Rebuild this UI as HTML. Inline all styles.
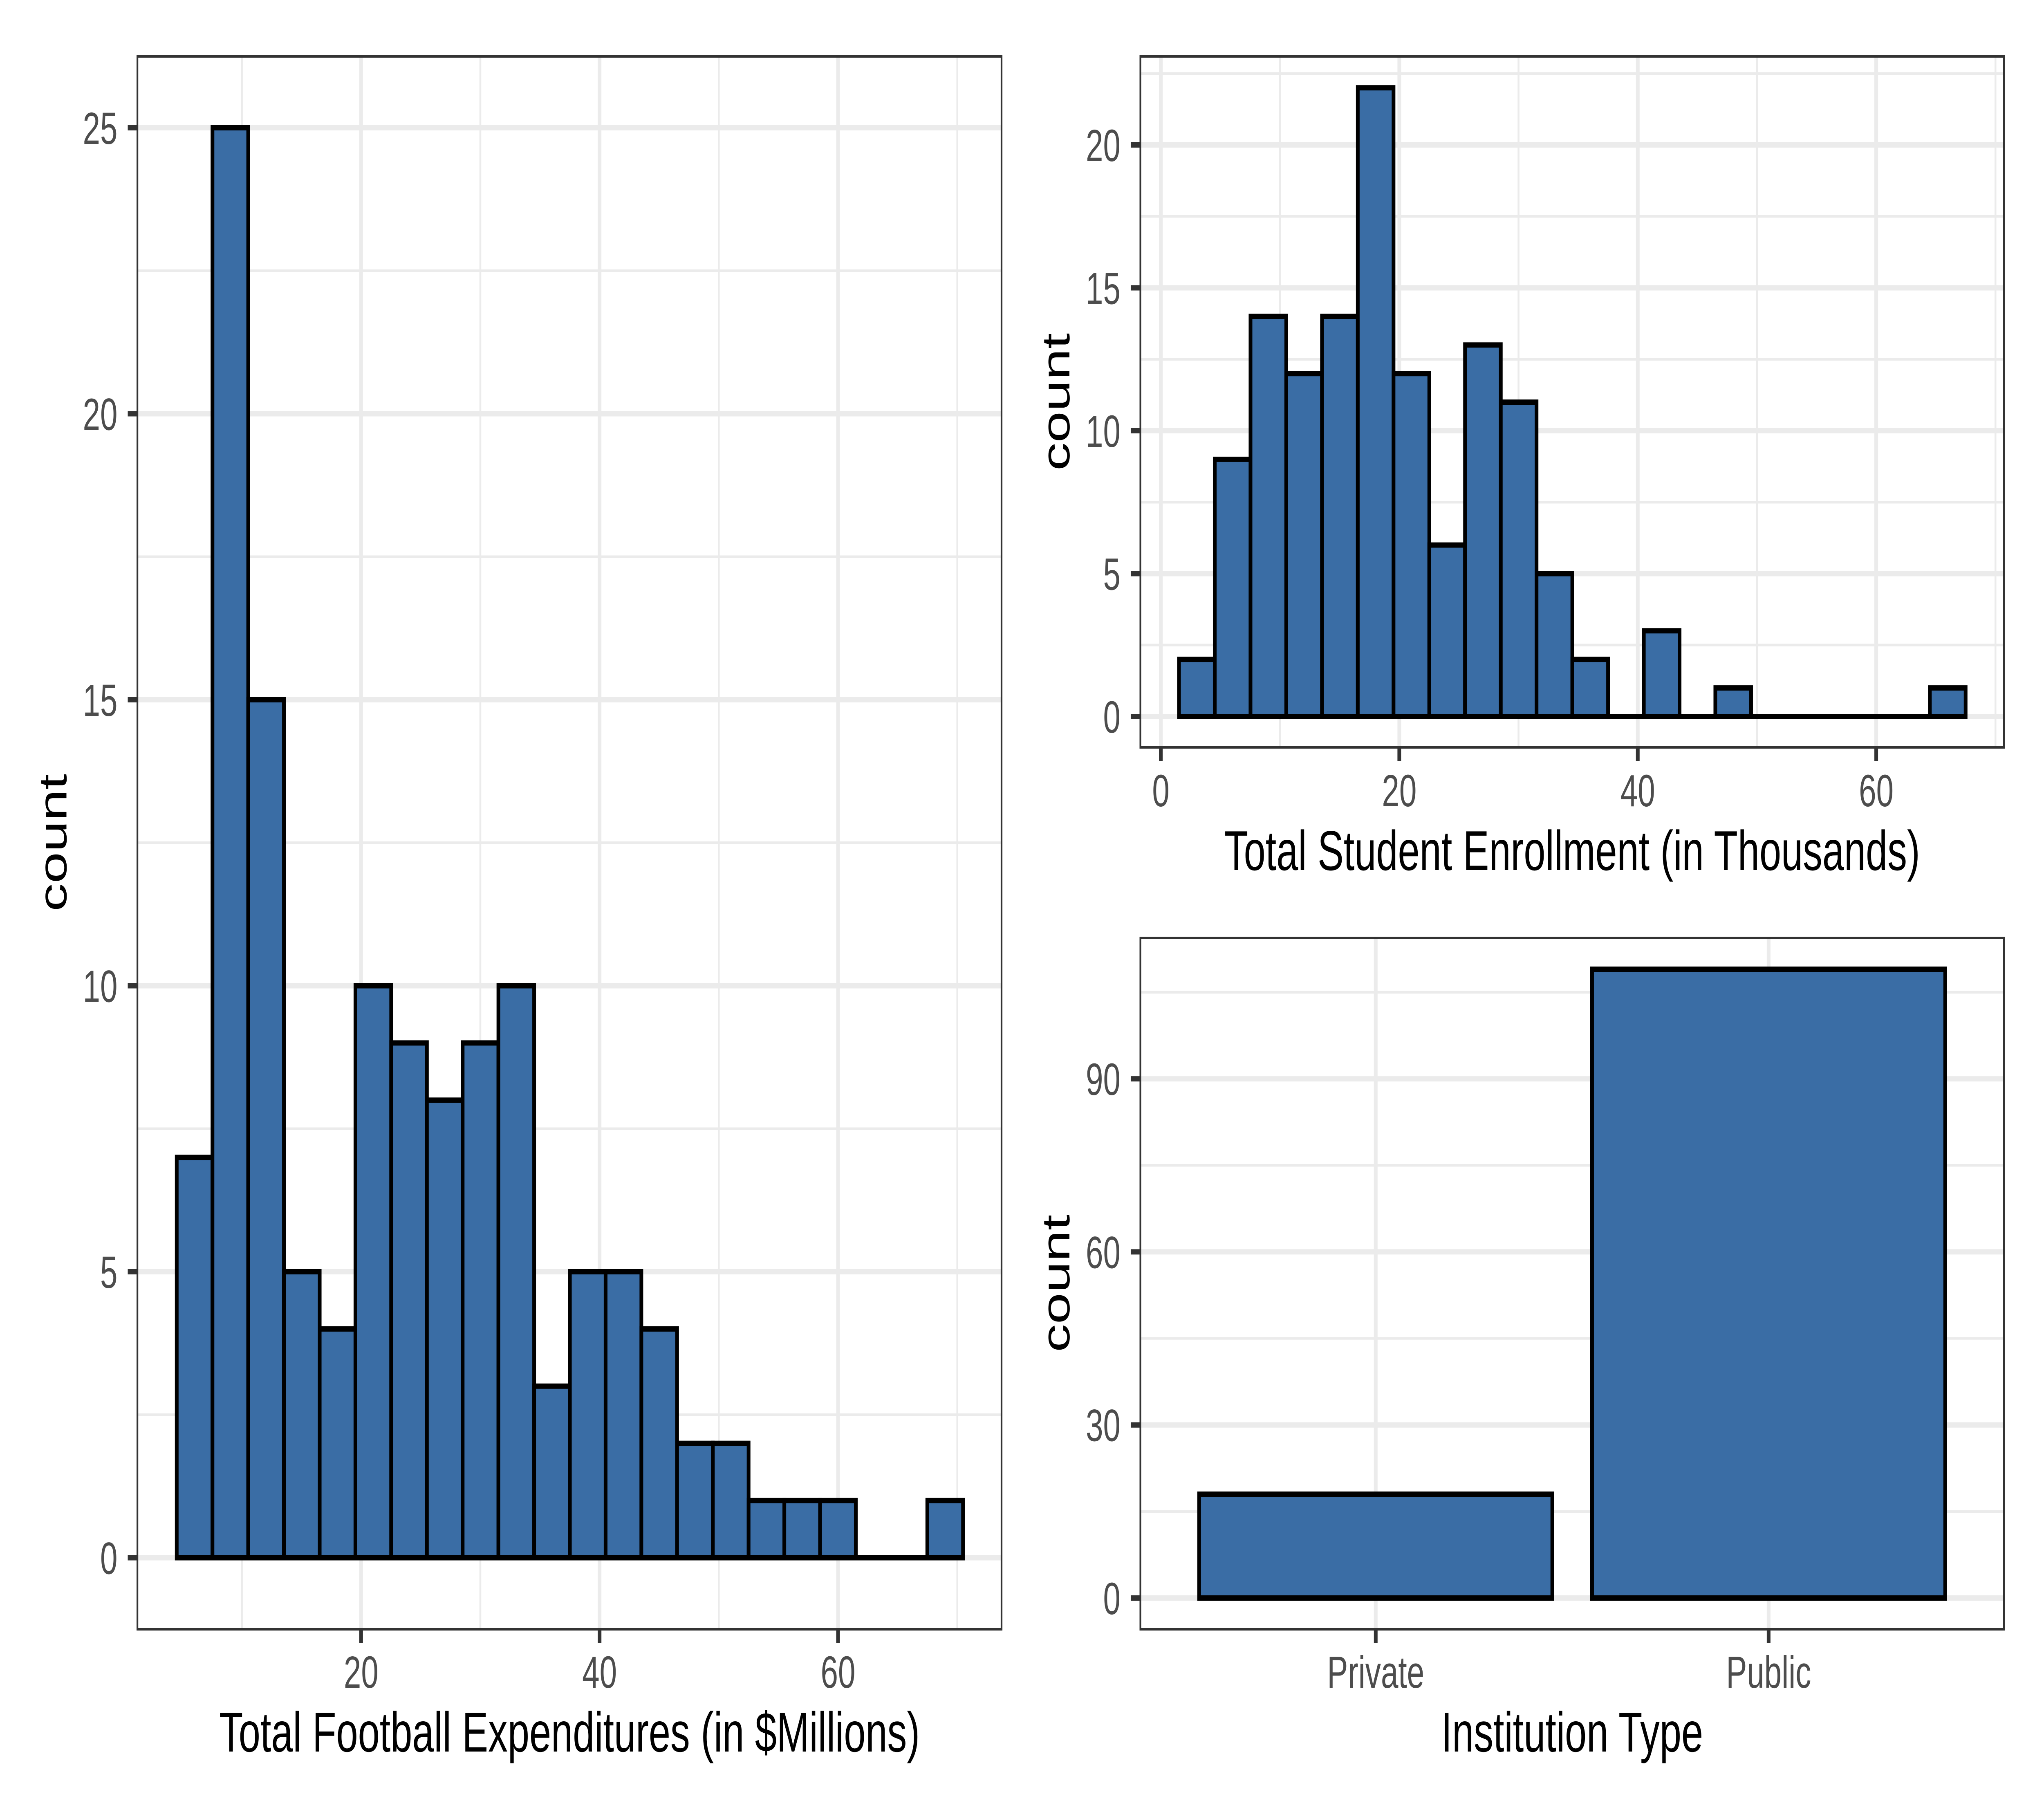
<!DOCTYPE html>
<html>
<head>
<meta charset="utf-8">
<style>
html,body{margin:0;padding:0;background:#fff;width:100%;height:100%;overflow:hidden;}
svg{display:block;position:fixed;left:0;top:0;width:100vw;height:100vh;}
text{font-family:"Liberation Sans",Arial,sans-serif;}
.tk{font-size:110px;fill:#4D4D4D;}
.ti{font-size:137.5px;fill:#000;}
.gM{stroke:#EBEBEB;stroke-width:13;}
.gm{stroke:#EBEBEB;stroke-width:6.5;}
.bar{fill:#3A6DA5;stroke:#000;stroke-width:13;stroke-linejoin:miter;}
.zl{stroke:#000;stroke-width:13;}
.tick{stroke:#333333;stroke-width:13;}
.bd{fill:none;stroke:#333333;stroke-width:6;}
</style>
</head>
<body>
<svg viewBox="0 0 7200 4449" preserveAspectRatio="none" xmlns="http://www.w3.org/2000/svg" overflow="hidden">
<rect x="0" y="0" width="7200" height="4449" fill="#fff"/>

<!-- ============ LEFT PANEL ============ -->
<g>
<line class="gm" x1="484" x2="3528" y1="3460.25" y2="3460.25"/>
<line class="gm" x1="484" x2="3528" y1="2760.75" y2="2760.75"/>
<line class="gm" x1="484" x2="3528" y1="2061.25" y2="2061.25"/>
<line class="gm" x1="484" x2="3528" y1="1361.75" y2="1361.75"/>
<line class="gm" x1="484" x2="3528" y1="662.25" y2="662.25"/>
<line class="gm" x1="852" x2="852" y1="138" y2="3985"/>
<line class="gm" x1="1692" x2="1692" y1="138" y2="3985"/>
<line class="gm" x1="2532" x2="2532" y1="138" y2="3985"/>
<line class="gm" x1="3372" x2="3372" y1="138" y2="3985"/>
<line class="gM" x1="484" x2="3528" y1="3810" y2="3810"/>
<line class="gM" x1="484" x2="3528" y1="3110.5" y2="3110.5"/>
<line class="gM" x1="484" x2="3528" y1="2411" y2="2411"/>
<line class="gM" x1="484" x2="3528" y1="1711.5" y2="1711.5"/>
<line class="gM" x1="484" x2="3528" y1="1012" y2="1012"/>
<line class="gM" x1="484" x2="3528" y1="312.5" y2="312.5"/>
<line class="gM" x1="1272" x2="1272" y1="138" y2="3985"/>
<line class="gM" x1="2112" x2="2112" y1="138" y2="3985"/>
<line class="gM" x1="2952" x2="2952" y1="138" y2="3985"/>
<rect class="bar" x="622.5" y="2830.7" width="125.9" height="979.3"/>
<rect class="bar" x="748.4" y="312.5" width="125.9" height="3497.5"/>
<rect class="bar" x="874.3" y="1711.5" width="125.9" height="2098.5"/>
<rect class="bar" x="1000.2" y="3110.5" width="125.9" height="699.5"/>
<rect class="bar" x="1126.1" y="3250.4" width="125.9" height="559.6"/>
<rect class="bar" x="1252.0" y="2411" width="125.9" height="1399"/>
<rect class="bar" x="1377.9" y="2550.9" width="125.9" height="1259.1"/>
<rect class="bar" x="1503.8" y="2690.8" width="125.9" height="1119.2"/>
<rect class="bar" x="1629.7" y="2550.9" width="125.9" height="1259.1"/>
<rect class="bar" x="1755.6" y="2411" width="125.9" height="1399"/>
<rect class="bar" x="1881.5" y="3390.3" width="125.9" height="419.7"/>
<rect class="bar" x="2007.4" y="3110.5" width="125.9" height="699.5"/>
<rect class="bar" x="2133.3" y="3110.5" width="125.9" height="699.5"/>
<rect class="bar" x="2259.2" y="3250.4" width="125.9" height="559.6"/>
<rect class="bar" x="2385.1" y="3530.2" width="125.9" height="279.8"/>
<rect class="bar" x="2511.0" y="3530.2" width="125.9" height="279.8"/>
<rect class="bar" x="2636.9" y="3670.1" width="125.9" height="139.9"/>
<rect class="bar" x="2762.8" y="3670.1" width="125.9" height="139.9"/>
<rect class="bar" x="2888.7" y="3670.1" width="125.9" height="139.9"/>
<line class="zl" x1="3014.6" x2="3266.4" y1="3810" y2="3810"/>
<rect class="bar" x="3266.4" y="3670.1" width="125.9" height="139.9"/>
<rect class="bd" x="484" y="138" width="3044" height="3847"/>
<line class="tick" x1="450" x2="484" y1="3810" y2="3810"/>
<line class="tick" x1="450" x2="484" y1="3110.5" y2="3110.5"/>
<line class="tick" x1="450" x2="484" y1="2411" y2="2411"/>
<line class="tick" x1="450" x2="484" y1="1711.5" y2="1711.5"/>
<line class="tick" x1="450" x2="484" y1="1012" y2="1012"/>
<line class="tick" x1="450" x2="484" y1="312.5" y2="312.5"/>
<line class="tick" x1="1272" x2="1272" y1="3985" y2="4019"/>
<line class="tick" x1="2112" x2="2112" y1="3985" y2="4019"/>
<line class="tick" x1="2952" x2="2952" y1="3985" y2="4019"/>
<text class="tk" x="414" y="3849.5" text-anchor="end">0</text>
<text class="tk" x="414" y="3150" text-anchor="end">5</text>
<text class="tk" x="414" y="2450.5" text-anchor="end">10</text>
<text class="tk" x="414" y="1751" text-anchor="end">15</text>
<text class="tk" x="414" y="1051.5" text-anchor="end">20</text>
<text class="tk" x="414" y="352" text-anchor="end">25</text>
<text class="tk" x="1272" y="4128" text-anchor="middle">20</text>
<text class="tk" x="2112" y="4128" text-anchor="middle">40</text>
<text class="tk" x="2952" y="4128" text-anchor="middle">60</text>
<text class="ti" x="2006" y="4284" text-anchor="middle">Total Football Expenditures (in $Millions)</text>
<text class="ti" transform="translate(234,2061) rotate(-90)" x="0" y="0" text-anchor="middle">count</text>
</g>

<!-- ============ TOP RIGHT PANEL ============ -->
<g>
<line class="gm" x1="4017" x2="7059" y1="1577.75" y2="1577.75"/>
<line class="gm" x1="4017" x2="7059" y1="1228.25" y2="1228.25"/>
<line class="gm" x1="4017" x2="7059" y1="878.75" y2="878.75"/>
<line class="gm" x1="4017" x2="7059" y1="529.25" y2="529.25"/>
<line class="gm" x1="4017" x2="7059" y1="179.75" y2="179.75"/>
<line class="gm" x1="4509" x2="4509" y1="138" y2="1828"/>
<line class="gm" x1="5349" x2="5349" y1="138" y2="1828"/>
<line class="gm" x1="6189" x2="6189" y1="138" y2="1828"/>
<line class="gm" x1="7029" x2="7029" y1="138" y2="1828"/>
<line class="gM" x1="4017" x2="7059" y1="1752.5" y2="1752.5"/>
<line class="gM" x1="4017" x2="7059" y1="1403" y2="1403"/>
<line class="gM" x1="4017" x2="7059" y1="1053.5" y2="1053.5"/>
<line class="gM" x1="4017" x2="7059" y1="704" y2="704"/>
<line class="gM" x1="4017" x2="7059" y1="354.5" y2="354.5"/>
<line class="gM" x1="4089" x2="4089" y1="138" y2="1828"/>
<line class="gM" x1="4929" x2="4929" y1="138" y2="1828"/>
<line class="gM" x1="5769" x2="5769" y1="138" y2="1828"/>
<line class="gM" x1="6609" x2="6609" y1="138" y2="1828"/>
<rect class="bar" x="4153" y="1612.7" width="125.95" height="139.8"/>
<rect class="bar" x="4278.95" y="1123.4" width="125.95" height="629.1"/>
<rect class="bar" x="4404.9" y="773.9" width="125.95" height="978.6"/>
<rect class="bar" x="4530.85" y="913.7" width="125.95" height="838.8"/>
<rect class="bar" x="4656.8" y="773.9" width="125.95" height="978.6"/>
<rect class="bar" x="4782.75" y="214.7" width="125.95" height="1537.8"/>
<rect class="bar" x="4908.7" y="913.7" width="125.95" height="838.8"/>
<rect class="bar" x="5034.65" y="1333.1" width="125.95" height="419.4"/>
<rect class="bar" x="5160.6" y="843.8" width="125.95" height="908.7"/>
<rect class="bar" x="5286.55" y="983.6" width="125.95" height="768.9"/>
<rect class="bar" x="5412.5" y="1403" width="125.95" height="349.5"/>
<rect class="bar" x="5538.45" y="1612.7" width="125.95" height="139.8"/>
<line class="zl" x1="5664.4" x2="5790.35" y1="1752.5" y2="1752.5"/>
<rect class="bar" x="5790.35" y="1542.8" width="125.95" height="209.7"/>
<line class="zl" x1="5916.3" x2="6042.25" y1="1752.5" y2="1752.5"/>
<rect class="bar" x="6042.25" y="1682.6" width="125.95" height="69.9"/>
<line class="zl" x1="6168.2" x2="6797.95" y1="1752.5" y2="1752.5"/>
<rect class="bar" x="6797.95" y="1682.6" width="125.95" height="69.9"/>
<rect class="bd" x="4017" y="138" width="3042" height="1690"/>
<line class="tick" x1="3983" x2="4017" y1="1752.5" y2="1752.5"/>
<line class="tick" x1="3983" x2="4017" y1="1403" y2="1403"/>
<line class="tick" x1="3983" x2="4017" y1="1053.5" y2="1053.5"/>
<line class="tick" x1="3983" x2="4017" y1="704" y2="704"/>
<line class="tick" x1="3983" x2="4017" y1="354.5" y2="354.5"/>
<line class="tick" x1="4089" x2="4089" y1="1828" y2="1862"/>
<line class="tick" x1="4929" x2="4929" y1="1828" y2="1862"/>
<line class="tick" x1="5769" x2="5769" y1="1828" y2="1862"/>
<line class="tick" x1="6609" x2="6609" y1="1828" y2="1862"/>
<text class="tk" x="3947" y="1792" text-anchor="end">0</text>
<text class="tk" x="3947" y="1442.5" text-anchor="end">5</text>
<text class="tk" x="3947" y="1093" text-anchor="end">10</text>
<text class="tk" x="3947" y="743.5" text-anchor="end">15</text>
<text class="tk" x="3947" y="394" text-anchor="end">20</text>
<text class="tk" x="4089" y="1972" text-anchor="middle">0</text>
<text class="tk" x="4929" y="1972" text-anchor="middle">20</text>
<text class="tk" x="5769" y="1972" text-anchor="middle">40</text>
<text class="tk" x="6609" y="1972" text-anchor="middle">60</text>
<text class="ti" x="5538" y="2128" text-anchor="middle">Total Student Enrollment (in Thousands)</text>
<text class="ti" transform="translate(3767,983) rotate(-90)" x="0" y="0" text-anchor="middle">count</text>
</g>

<!-- ============ BOTTOM RIGHT PANEL ============ -->
<g>
<line class="gm" x1="4017" x2="7059" y1="3696.85" y2="3696.85"/>
<line class="gm" x1="4017" x2="7059" y1="3273.55" y2="3273.55"/>
<line class="gm" x1="4017" x2="7059" y1="2850.25" y2="2850.25"/>
<line class="gm" x1="4017" x2="7059" y1="2426.95" y2="2426.95"/>
<line class="gM" x1="4017" x2="7059" y1="3908.5" y2="3908.5"/>
<line class="gM" x1="4017" x2="7059" y1="3485.2" y2="3485.2"/>
<line class="gM" x1="4017" x2="7059" y1="3061.9" y2="3061.9"/>
<line class="gM" x1="4017" x2="7059" y1="2638.6" y2="2638.6"/>
<line class="gM" x1="4846" x2="4846" y1="2294" y2="3985"/>
<line class="gM" x1="6230" x2="6230" y1="2294" y2="3985"/>
<rect class="bar" x="4224" y="3654.5" width="1244" height="254"/>
<rect class="bar" x="5608" y="2370.5" width="1244" height="1538"/>
<rect class="bd" x="4017" y="2294" width="3042" height="1691"/>
<line class="tick" x1="3983" x2="4017" y1="3908.5" y2="3908.5"/>
<line class="tick" x1="3983" x2="4017" y1="3485.2" y2="3485.2"/>
<line class="tick" x1="3983" x2="4017" y1="3061.9" y2="3061.9"/>
<line class="tick" x1="3983" x2="4017" y1="2638.6" y2="2638.6"/>
<line class="tick" x1="4846" x2="4846" y1="3985" y2="4019"/>
<line class="tick" x1="6230" x2="6230" y1="3985" y2="4019"/>
<text class="tk" x="3947" y="3948" text-anchor="end">0</text>
<text class="tk" x="3947" y="3524.7" text-anchor="end">30</text>
<text class="tk" x="3947" y="3101.4" text-anchor="end">60</text>
<text class="tk" x="3947" y="2678.1" text-anchor="end">90</text>
<text class="tk" x="4846" y="4128" text-anchor="middle">Private</text>
<text class="tk" x="6230" y="4128" text-anchor="middle">Public</text>
<text class="ti" x="5538" y="4284" text-anchor="middle">Institution Type</text>
<text class="ti" transform="translate(3767,3139) rotate(-90)" x="0" y="0" text-anchor="middle">count</text>
</g>
</svg>
</body>
</html>
